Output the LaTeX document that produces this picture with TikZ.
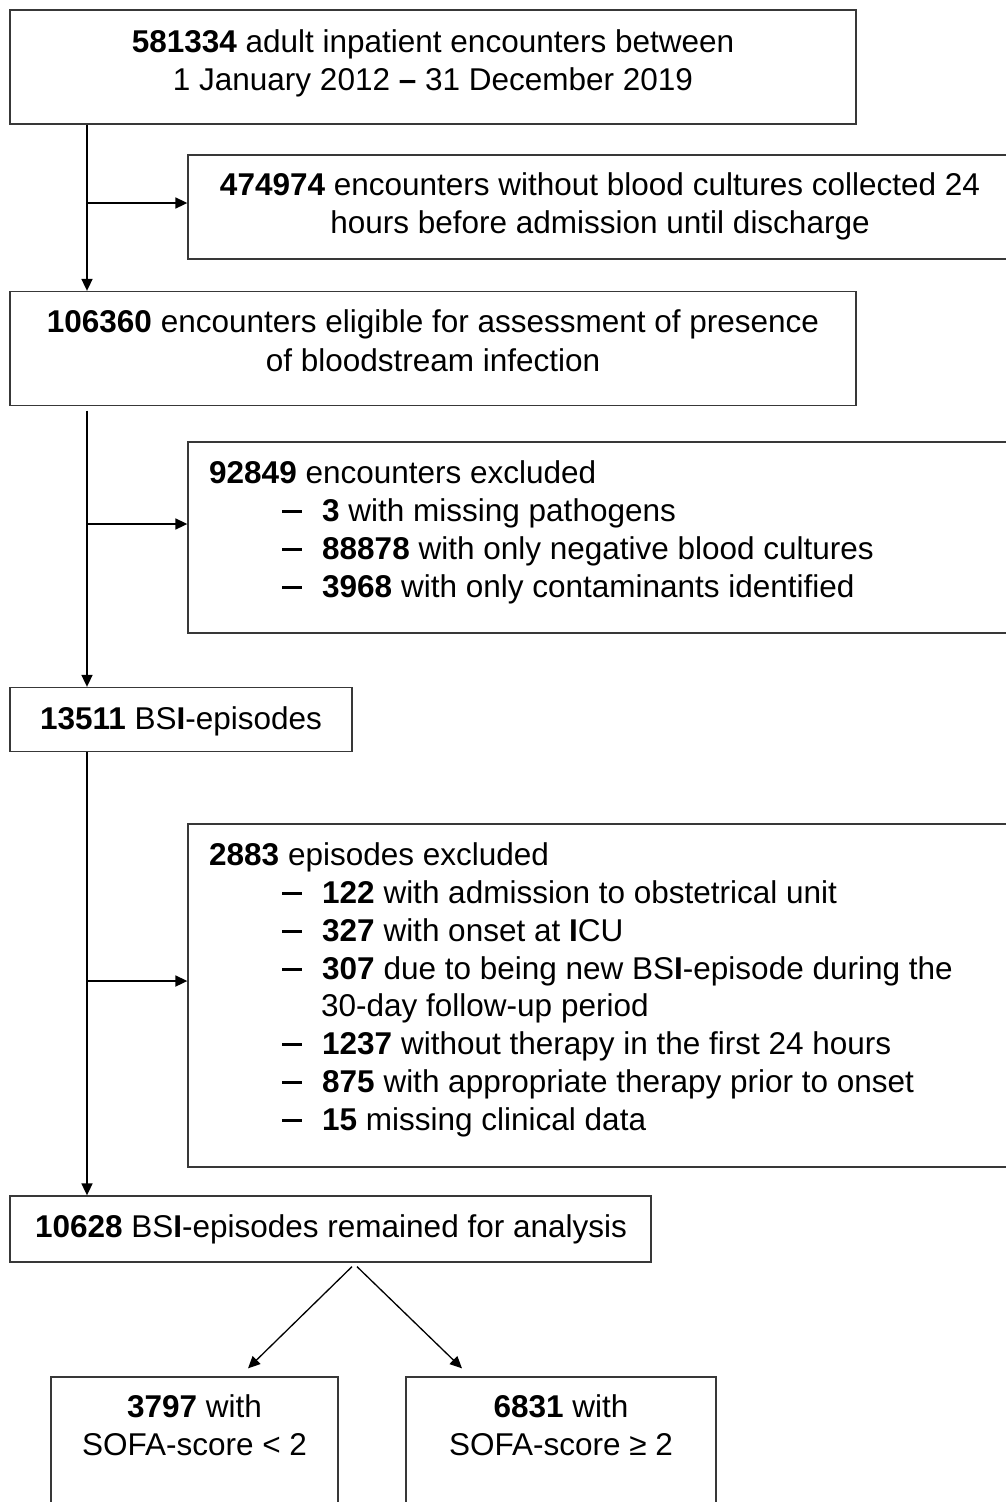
\documentclass[tikz,border=0pt]{standalone}
\usepackage{fontspec}
\setmainfont{Liberation Sans}
\usetikzlibrary{arrows.meta,calc}
\newcommand{\mainsz}{\fontsize{31.5}{38.5}\selectfont}
\newcommand{\bdash}{\rule[8pt]{20pt}{3pt}}
\begin{document}
\begin{tikzpicture}[x=1pt,y=-1pt,
  box/.style={draw=black!78, line width=1.3pt, rectangle, inner sep=0pt},
  arr/.style={draw=black, line width=1.7pt, -{Triangle[length=12pt,width=11pt]}},
  txt/.style={anchor=base, inner sep=0pt, font=\mainsz},
  ltxt/.style={anchor=base west, inner sep=0pt, font=\mainsz}]
\clip (0,0) rectangle (1006,1502);
\fill[white] (0,0) rectangle (1006,1502);

% boxes
\node[box, minimum width=846, minimum height=114] (b1) at (433,67) {};
\node[box, minimum width=824, minimum height=104] (b2) at (600,207) {};
\node[box, minimum width=846, minimum height=114] (b3) at (433,348.5) {};
\node[box, minimum width=824, minimum height=191] (b4) at (600,537.5) {};
\node[box, minimum width=342, minimum height=64] (b5) at (181,719.5) {};
\node[box, minimum width=824, minimum height=343] (b6) at (600,995.5) {};
\node[box, minimum width=641, minimum height=66] (b7) at (330.5,1229) {};
\node[box, minimum width=287, minimum height=140] (b8) at (194.5,1447) {};
\node[box, minimum width=310, minimum height=140] (b9) at (561,1447) {};

% texts
\node[txt] (t1a) at (433,52) {\textbf{581334} adult inpatient encounters between};
\node[txt] (t1b) at (433,90.5) {1 January 2012 \textbf{–} 31 December 2019};

\node[txt] (t2a) at (600,195) {\textbf{474974} encounters without blood cultures collected 24};
\node[txt] (t2b) at (600,233.5) {hours before admission until discharge};

\node[txt] (t3a) at (433,332) {\textbf{106360} encounters eligible for assessment of presence};
\node[txt] (t3b) at (433,371.5) {of bloodstream infection};

\node[ltxt] (t4a) at (209,483) {\textbf{92849} encounters excluded};
\node[ltxt] (d4b) at (282,521) {\bdash};
\node[ltxt] (t4b) at (322,521) {\textbf{3} with missing pathogens};
\node[ltxt] (d4c) at (282,559) {\bdash};
\node[ltxt] (t4c) at (322,559) {\textbf{88878} with only negative blood cultures};
\node[ltxt] (d4d) at (282,597) {\bdash};
\node[ltxt] (t4d) at (322,597) {\textbf{3968} with only contaminants identified};

\node[txt] (t5) at (181,729) {\textbf{13511} BS\textbf{I}-episodes};

\node[ltxt] (t6a) at (209,865) {\textbf{2883} episodes excluded};
\node[ltxt] (d6b) at (282,903) {\bdash};
\node[ltxt] (t6b) at (322,903) {\textbf{122} with admission to obstetrical unit};
\node[ltxt] (d6c) at (282,941) {\bdash};
\node[ltxt] (t6c) at (322,941) {\textbf{327} with onset at \textbf{I}CU};
\node[ltxt] (d6d) at (282,979) {\bdash};
\node[ltxt] (t6d) at (322,979) {\textbf{307} due to being new BS\textbf{I}-episode during the};
\node[ltxt] (t6e) at (321,1016) {30-day follow-up period};
\node[ltxt] (d6f) at (282,1054) {\bdash};
\node[ltxt] (t6f) at (322,1054) {\textbf{1237} without therapy in the first 24 hours};
\node[ltxt] (d6g) at (282,1092) {\bdash};
\node[ltxt] (t6g) at (322,1092) {\textbf{875} with appropriate therapy prior to onset};
\node[ltxt] (d6h) at (282,1130) {\bdash};
\node[ltxt] (t6h) at (322,1130) {\textbf{15} missing clinical data};

\node[txt] (t7) at (331,1237) {\textbf{10628} BS\textbf{I}-episodes remained for analysis};

\node[txt] (t8a) at (194.5,1417) {\textbf{3797} with};
\node[txt] (t8b) at (194.5,1455) {SOFA-score < 2};
\node[txt] (t9a) at (561,1417) {\textbf{6831} with};
\node[txt] (t9b) at (561,1455) {SOFA-score ≥ 2};

% connectors
\coordinate (j1) at (87,203);
\coordinate (j2) at (87,524);
\coordinate (j3) at (87,981);
\draw[arr] (b1.south -| j1) -- (b3.north -| j1);
\draw[arr] (j1) -- (j1 -| b2.west);
\draw[arr] ($(b3.south -| j2)+(0,4.5)$) -- (b5.north -| j2);
\draw[arr] (j2) -- (j2 -| b4.west);
\draw[arr] (b5.south -| j3) -- (b7.north -| j3);
\draw[arr] (j3) -- (j3 -| b6.west);

\draw[arr, line width=1.3pt] ($(b7.south)+(21.5,4)$) -- ($(b8.north)+(53.5,-8)$);
\draw[arr, line width=1.3pt] ($(b7.south)+(26.5,4)$) -- ($(b9.north)+(-99,-8)$);
\end{tikzpicture}
\end{document}
